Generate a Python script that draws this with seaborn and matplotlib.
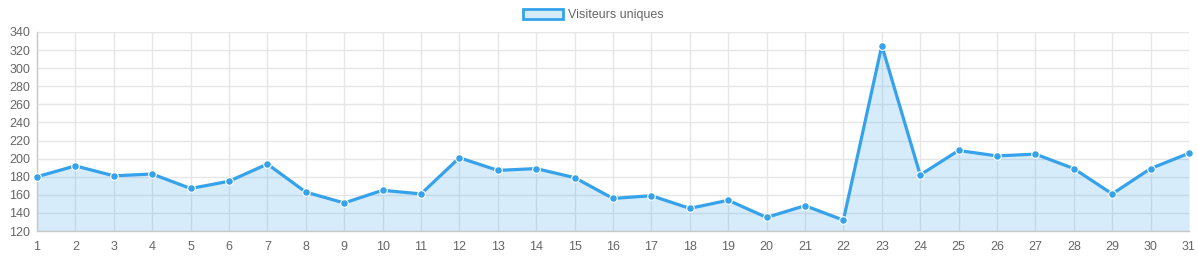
import matplotlib
matplotlib.use("Agg")
import matplotlib.pyplot as plt
import seaborn as sns
import pandas as pd
from matplotlib.patches import Patch

days = list(range(1, 32))
visitors = [180, 192, 181, 183, 167, 175, 194, 163, 151, 165, 161, 201, 187, 189, 179,
            156, 159, 145, 154, 135, 148, 132, 325, 182, 209, 203, 205, 189, 161, 189, 206]
label = "Visiteurs uniques"

sns.set_theme(style="white")
plt.rcParams['font.family'] = ['Liberation Sans', 'DejaVu Sans']

blue = "#36A2EB"
fill = (54/255, 162/255, 235/255, 0.2)
grid = "#e6e6e6"
txt = "#666666"

df = pd.DataFrame({"day": days, "visitors": visitors})

fig = plt.figure(figsize=(11.98, 2.59), dpi=100)
ax = fig.add_axes([37/1198, 1 - 231/259, (1189 - 37)/1198, (231 - 32)/259])

ax.fill_between(df["day"], df["visitors"], 120, color=fill, linewidth=0, zorder=1)
sns.lineplot(data=df, x="day", y="visitors", ax=ax, color=blue, linewidth=2.3,
             marker="o", markersize=5.5, markerfacecolor=blue, markeredgecolor="white",
             markeredgewidth=0.8, zorder=3, clip_on=False)

ax.set_xlim(1, 31)
ax.set_ylim(120, 340)
ax.set_xticks(days)
ax.set_xticklabels([str(d) for d in days])
ax.set_yticks(range(120, 341, 20))
ax.grid(True, color=grid, linewidth=1, alpha=1)
ax.set_axisbelow(True)
for s in ["top", "right"]:
    ax.spines[s].set_visible(False)
for s in ["left", "bottom"]:
    ax.spines[s].set_color("#c8c8c8")
    ax.spines[s].set_linewidth(1)
ax.tick_params(axis="both", colors=txt, labelsize=9, length=0, pad=5)
ax.tick_params(axis="x", pad=7)
ax.set_xlabel("")
ax.set_ylabel("")

handle = Patch(facecolor=fill, edgecolor=blue, linewidth=2)
fig.legend([handle], [label], loc="center", bbox_to_anchor=(593/1198, 1 - 15/259),
           frameon=False, fontsize=9, labelcolor=txt, handlelength=3.2, handleheight=0.9,
           handletextpad=0.4)

fig.savefig("out.png", dpi=100)
